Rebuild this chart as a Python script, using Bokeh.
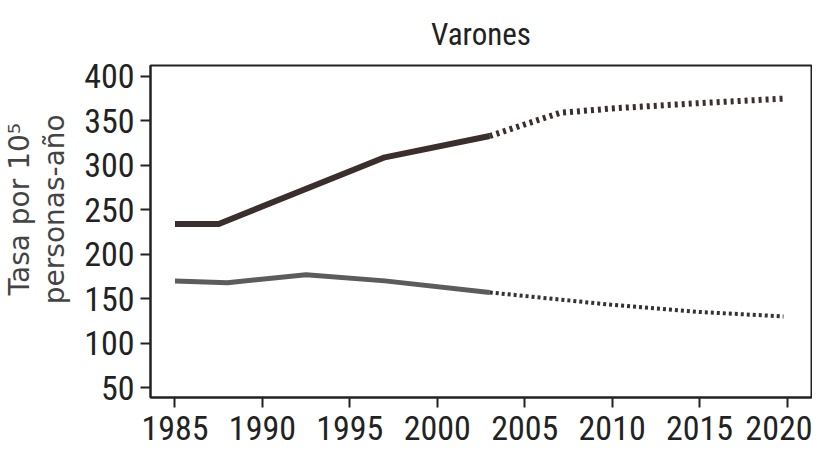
from bokeh.plotting import figure
from bokeh.models import FixedTicker, Range1d
from bokeh.embed import file_html
from bokeh.resources import INLINE

# Observed data (solid)
upper_obs_years = [1985, 1987.5, 1997, 2003]
upper_obs_vals = [234, 234, 309, 333]
# Projection (dotted)
upper_proj_years = [2003, 2007, 2010, 2015, 2019.8]
upper_proj_vals = [333, 359, 364, 370, 375]

lower_obs_years = [1985, 1988, 1992.5, 1997, 2003]
lower_obs_vals = [170, 168, 177, 170, 157]
lower_proj_years = [2003, 2010, 2015, 2019.8]
lower_proj_vals = [157, 143, 135, 130]

x_ticks = [1985, 1990, 1995, 2000, 2005, 2010, 2015, 2020]
y_ticks = [50, 100, 150, 200, 250, 300, 350, 400]

NARROW = "'Roboto Condensed', 'Liberation Sans', sans-serif"

p = figure(width=812, height=456, output_backend="svg", toolbar_location=None,
           x_range=Range1d(1983.6, 2021.4), y_range=Range1d(38.8, 412.3),
           min_border_left=147, min_border_right=1, min_border_top=63, min_border_bottom=59)

p.title.text = "Varones"
p.title.align = "center"
p.title.text_font = NARROW
p.title.text_font_size = "31px"
p.title.text_font_style = "normal"
p.title.text_color = "#222222"
p.title.standoff = 26

p.outline_line_color = "#222222"
p.outline_line_width = 2
p.xgrid.visible = False
p.ygrid.visible = False

for ax in (p.xaxis[0], p.yaxis[0]):
    ax.axis_line_color = "#222222"
    ax.axis_line_width = 2
    ax.major_tick_line_color = "#222222"
    ax.major_tick_line_width = 2
    ax.major_tick_out = 10
    ax.major_tick_in = 0
    ax.minor_tick_line_color = None
    ax.major_label_text_font = NARROW
    ax.major_label_text_font_size = "34px"
    ax.major_label_text_color = "#222222"

p.xaxis.ticker = FixedTicker(ticks=x_ticks)
p.yaxis.ticker = FixedTicker(ticks=y_ticks)
p.xaxis.major_label_standoff = 8
p.yaxis.major_label_standoff = 6

pad = "\u00a0" * 5
p.yaxis.axis_label = pad + "Tasa por 10\u2075\n" + pad + "personas-año"
p.yaxis.axis_label_text_font = "DejaVu Sans"
p.yaxis.axis_label_text_font_size = "28px"
p.yaxis.axis_label_text_font_style = "normal"
p.yaxis.axis_label_text_color = "#444444"
p.yaxis.axis_label_text_line_height = 1.05
p.yaxis.axis_label_standoff = 10

p.line(upper_obs_years, upper_obs_vals, line_color="#3b2f2d", line_width=6, line_join="round")
p.line(upper_proj_years, upper_proj_vals, line_color="#3b2f2d", line_width=6, line_dash="3 4", line_cap="butt")

p.line(lower_obs_years, lower_obs_vals, line_color="#5c5c5c", line_width=5, line_join="round")
p.line(lower_proj_years, lower_proj_vals, line_color="#333333", line_width=4, line_dash="3 3", line_cap="butt")

open("out.html", "w").write(file_html(p, INLINE))
